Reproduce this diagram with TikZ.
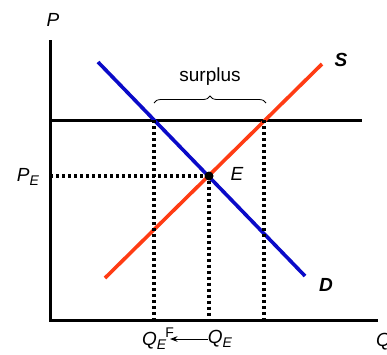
\documentclass[tikz,border=0pt]{standalone}
\usepackage{fontspec}
\setmainfont{Liberation Sans}
\usetikzlibrary{arrows.meta,decorations.pathreplacing}

\newcommand{\sub}[1]{\raisebox{-0.45ex}{\fontsize{14}{16}\selectfont #1}}
\newcommand{\supr}[1]{\raisebox{0.75ex}{\fontsize{14}{16}\selectfont #1}}

\begin{document}
\begin{tikzpicture}[
    x=1pt, y=-1pt,
    font=\fontsize{19}{22}\selectfont,
    >=Stealth,
    axisline/.style={line width=3pt},
    demandline/.style={line width=3.6pt, draw={rgb,255:red,10;green,10;blue,200}},
    supplyline/.style={line width=3.6pt, draw={rgb,255:red,255;green,60;blue,20}},
    guideline/.style={dash pattern=on 3pt off 3pt, line width=3.2pt},
    lbl/.style={inner sep=0pt, font=\fontsize{19}{22}\selectfont\itshape}
  ]
    \useasboundingbox (0,0) rectangle (387,354);

    % axes
    \coordinate (origin) at (50,320);
    \coordinate (ptop) at (50,40);
    \coordinate (qend) at (378,320);
    \draw[axisline] (ptop) -- (origin) -- (qend);
    \node[lbl] (plabel) at (53,20) {P};
    \node[lbl, anchor=west] (qlabel) at (376,342) {Q};

    % price floor
    \coordinate (floorleft) at (50,120);
    \coordinate (floorright) at (362,120);
    \draw[axisline] (floorleft) -- (floorright);

    % curves
    \coordinate (dtop) at (98,62);
    \coordinate (dbot) at (305,276);
    \coordinate (sbot) at (105,278);
    \coordinate (stop) at (322,64);
    \draw[demandline] (dtop) -- (dbot);
    \draw[supplyline] (sbot) -- (stop);
    \node[lbl, font=\fontsize{19}{22}\selectfont\bfseries\itshape] (slabel) at (341,60) {S};
    \node[lbl, font=\fontsize{19}{22}\selectfont\bfseries\itshape] (dlabel) at (326,285) {D};

    % equilibrium
    \node[circle, fill, inner sep=0pt, minimum size=9pt] (eq) at (209,176) {};
    \node[lbl] (elabel) at (237,174) {E};
    \node[lbl] (pelabel) at (28,177) {P\sub{E}};
    \coordinate (peaxis) at (50,176);
    \draw[guideline] (peaxis) -- (eq);

    % dotted drops
    \coordinate (qdlow) at (154,320);
    \coordinate (qdhigh) at (154,120);
    \coordinate (qelow) at (209,320);
    \coordinate (qshigh) at (264,120);
    \coordinate (qslow) at (264,320);
    \draw[guideline] (qdhigh) -- (qdlow);
    \draw[guideline] (eq) -- (qelow);
    \draw[guideline] (qshigh) -- (qslow);

    % surplus brace
    \coordinate (braceleft) at (154,103);
    \coordinate (braceright) at (266,103);
    \draw[decorate, decoration={brace, amplitude=7pt}, line width=0.8pt] (braceleft) -- (braceright);
    \node[inner sep=0pt] (surplus) at (210,77) {surplus};

    % quantity labels
    \node[lbl] (qfloor) at (158,339) {Q\sub{E}\hspace{-1pt}\supr{\upshape F}};
    \node[lbl] (qeq) at (220,339) {Q\sub{E}};
    \coordinate (arrowtip) at (170,339);
    \draw[->, line width=1pt] (qeq.west) -- (arrowtip);
\end{tikzpicture}
\end{document}
